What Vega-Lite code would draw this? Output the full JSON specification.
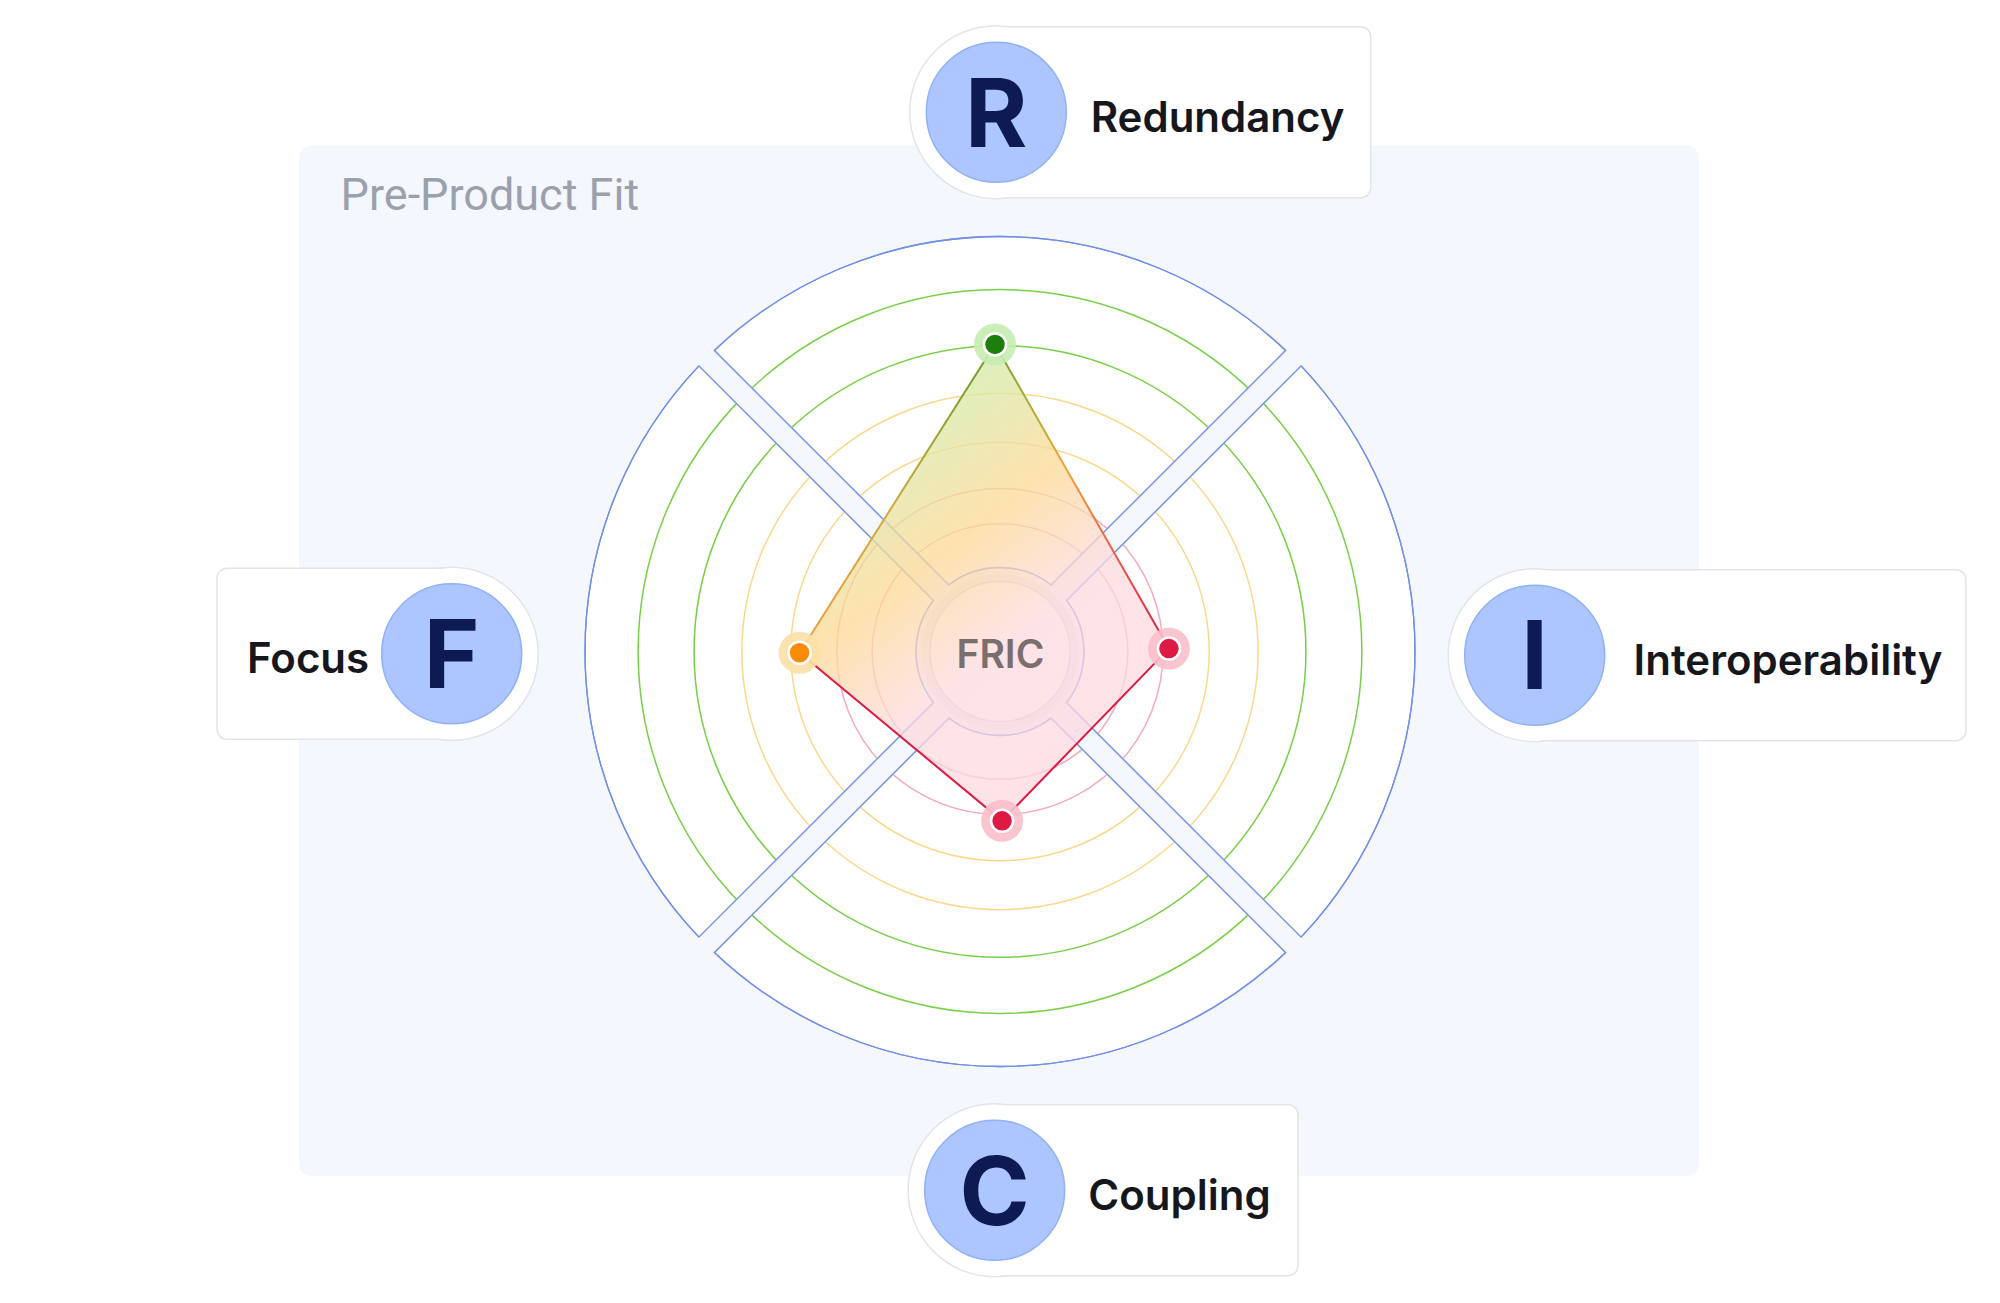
{
  "$schema": "https://vega.github.io/schema/vega-lite/v6.json",
  "width": 2000,
  "height": 1303,
  "autosize": {"type": "fit", "contains": "padding"},
  "padding": 0,
  "background": "#ffffff",
  "config": {"view": {"stroke": null}, "font": "Inter"},
  "datasets": {
    "radar": [
      {"dimension": "Redundancy", "letter": "R", "angle": 0, "x": -1.2, "y": 74.0, "status": "healthy"},
      {"dimension": "Interoperability", "letter": "I", "angle": 90, "x": 40.7, "y": 0.7, "status": "critical"},
      {"dimension": "Coupling", "letter": "C", "angle": 180, "x": 0.5, "y": -40.8, "status": "critical"},
      {"dimension": "Focus", "letter": "F", "angle": 270, "x": -48.3, "y": -0.3, "status": "warning"}
    ],
    "sectors": [
      {"dimension": "Redundancy", "start": -45, "end": 45},
      {"dimension": "Interoperability", "start": 45, "end": 135},
      {"dimension": "Coupling", "start": 135, "end": 225},
      {"dimension": "Focus", "start": 225, "end": 315}
    ],
    "rings": [
      {"level": 1, "r": 30.8, "zone": "critical"},
      {"level": 2, "r": 39.3, "zone": "critical"},
      {"level": 3, "r": 50.4, "zone": "warning"},
      {"level": 4, "r": 62.2, "zone": "warning"},
      {"level": 5, "r": 73.7, "zone": "healthy"},
      {"level": 6, "r": 87.2, "zone": "healthy"}
    ],
    "cards": [
      {"dimension": "Redundancy", "letter": "R", "cx": -0.89, "cy": 129.95, "edge": 89.33, "tx": 21.86},
      {"dimension": "Interoperability", "letter": "I", "cx": 128.84, "cy": -0.89, "edge": 232.75, "tx": 152.67},
      {"dimension": "Coupling", "letter": "C", "cx": -1.28, "cy": -129.81, "edge": 71.81, "tx": 21.28},
      {"dimension": "Focus", "letter": "F", "cx": -132.12, "cy": -0.55, "edge": -188.67, "tx": -181.45}
    ]
  },
  "layer": [
    {
      "data": {"values": [{"panel": "Pre-Product Fit"}]},
      "mark": {"type": "rect", "fill": "#f4f7fe", "cornerRadius": 12},
      "encoding": {
        "x": {"datum": -168.9, "type": "quantitative", "scale": {"domain": [-240.96, 240.96], "nice": false, "zero": false}, "axis": null},
        "x2": {"datum": 168.4},
        "y": {"datum": 121.9, "type": "quantitative", "scale": {"domain": [-156.99, 156.99], "nice": false, "zero": false}, "axis": null},
        "y2": {"datum": -126.3}
      }
    },
    {
      "data": {"values": [{"panel": "Pre-Product Fit"}]},
      "mark": {"type": "text", "align": "left", "baseline": "alphabetic", "font": "Roboto", "fontSize": 45, "color": "#9aa1ad"},
      "encoding": {
        "x": {"datum": -158.9, "type": "quantitative", "scale": {"domain": [-240.96, 240.96], "nice": false, "zero": false}, "axis": null},
        "y": {"datum": 106.5, "type": "quantitative", "scale": {"domain": [-156.99, 156.99], "nice": false, "zero": false}, "axis": null},
        "text": {"field": "panel"}
      }
    },
    {
      "data": {"name": "sectors"},
      "mark": {"type": "arc", "fill": "#ffffff", "stroke": "#7090e8", "strokeWidth": 1.3, "padAngle": 0.0515},
      "encoding": {
        "theta": {"field": "start", "type": "quantitative", "stack": null, "scale": {"type": "linear", "domain": [0, 360], "range": [0, 6.283185307179586]}},
        "theta2": {"field": "end"},
        "radius": {"datum": 100, "type": "quantitative", "scale": {"type": "linear", "domain": [0, 100], "range": [0, 415], "zero": true, "nice": false}},
        "radius2": {"datum": 20.24}
      }
    },
    {
      "data": {"name": "rings"},
      "mark": {"type": "arc", "filled": false, "strokeWidth": 1.5, "theta": 0, "theta2": 6.283185307179586},
      "encoding": {
        "radius": {"field": "r", "type": "quantitative", "stack": null, "scale": {"type": "linear", "domain": [0, 100], "range": [0, 415], "zero": true, "nice": false}},
        "stroke": {"field": "zone", "type": "nominal", "scale": {"domain": ["critical", "warning", "healthy"], "range": ["#f6a9b8", "#fcd88f", "#78cf48"]}, "legend": null}
      }
    },
    {
      "data": {"values": [{"gap": "diagonal 1"}]},
      "mark": {"type": "rule", "stroke": "#f4f7fe", "strokeWidth": 22},
      "encoding": {
        "x": {"datum": -74, "type": "quantitative", "scale": {"domain": [-240.96, 240.96], "nice": false, "zero": false}, "axis": null},
        "y": {"datum": -74, "type": "quantitative", "scale": {"domain": [-156.99, 156.99], "nice": false, "zero": false}, "axis": null},
        "x2": {"datum": 74},
        "y2": {"datum": 74}
      }
    },
    {
      "data": {"values": [{"gap": "diagonal 2"}]},
      "mark": {"type": "rule", "stroke": "#f4f7fe", "strokeWidth": 22},
      "encoding": {
        "x": {"datum": -74, "type": "quantitative", "scale": {"domain": [-240.96, 240.96], "nice": false, "zero": false}, "axis": null},
        "y": {"datum": 74, "type": "quantitative", "scale": {"domain": [-156.99, 156.99], "nice": false, "zero": false}, "axis": null},
        "x2": {"datum": 74},
        "y2": {"datum": -74}
      }
    },
    {
      "data": {"name": "sectors"},
      "mark": {"type": "arc", "filled": false, "stroke": "#7090e8", "strokeWidth": 1.3, "padAngle": 0.0515},
      "encoding": {
        "theta": {"field": "start", "type": "quantitative", "stack": null, "scale": {"type": "linear", "domain": [0, 360], "range": [0, 6.283185307179586]}},
        "theta2": {"field": "end"},
        "radius": {"datum": 100, "type": "quantitative", "scale": {"type": "linear", "domain": [0, 100], "range": [0, 415], "zero": true, "nice": false}},
        "radius2": {"datum": 20.24}
      }
    },
    {
      "data": {"values": [{"hub": "shadow"}]},
      "mark": {"type": "arc", "fill": "#e4e6ef", "opacity": 0.7, "theta": 0, "theta2": 6.283185307179586},
      "encoding": {
        "radius": {"datum": 18.8, "type": "quantitative", "scale": {"type": "linear", "domain": [0, 100], "range": [0, 415], "zero": true, "nice": false}},
        "radius2": {"datum": 16.87}
      }
    },
    {
      "data": {"values": [{"hub": "FRIC"}]},
      "mark": {"type": "arc", "fill": "#ffffff", "stroke": "#c8cce6", "strokeWidth": 1.3, "theta": 0, "theta2": 6.283185307179586},
      "encoding": {
        "radius": {"datum": 16.87, "type": "quantitative", "scale": {"type": "linear", "domain": [0, 100], "range": [0, 415], "zero": true, "nice": false}}
      }
    },
    {
      "data": {"name": "radar"},
      "mark": {
        "type": "line",
        "fill": {"gradient": "linear", "x1": 0.2, "y1": 0, "x2": 0.8, "y2": 1, "stops": [
          {"offset": 0, "color": "#c8e6a2"},
          {"offset": 0.2, "color": "#d9e8a4"},
          {"offset": 0.4, "color": "#fdd994"},
          {"offset": 0.62, "color": "#fddade"},
          {"offset": 1, "color": "#fdd8e0"}
        ]},
        "fillOpacity": 0.75,
        "strokeOpacity": 0
      },
      "encoding": {
        "x": {"field": "x", "type": "quantitative", "scale": {"domain": [-240.96, 240.96], "nice": false, "zero": false}, "axis": null},
        "y": {"field": "y", "type": "quantitative", "scale": {"domain": [-156.99, 156.99], "nice": false, "zero": false}, "axis": null},
        "order": {"field": "angle", "type": "quantitative"}
      }
    },
    {
      "data": {"values": [{"hub": "FRIC"}]},
      "mark": {"type": "text", "align": "center", "baseline": "alphabetic", "font": "Inter", "fontSize": 39, "fontWeight": 600, "color": "#7b6e6f"},
      "encoding": {
        "x": {"datum": 0.1, "type": "quantitative", "scale": {"domain": [-240.96, 240.96], "nice": false, "zero": false}, "axis": null},
        "y": {"datum": -3.93, "type": "quantitative", "scale": {"domain": [-156.99, 156.99], "nice": false, "zero": false}, "axis": null},
        "text": {"field": "hub"}
      }
    },
    {
      "data": {"name": "radar"},
      "transform": [{"filter": "datum.letter !== 'C'"}],
      "mark": {
        "type": "line",
        "strokeWidth": 2,
        "stroke": {"gradient": "linear", "x1": 0, "y1": 0, "x2": 1, "y2": 0, "stops": [
          {"offset": 0, "color": "#f39c40"},
          {"offset": 0.25, "color": "#d4a83c"},
          {"offset": 0.53, "color": "#5f9e2c"},
          {"offset": 0.6, "color": "#9aae38"},
          {"offset": 0.72, "color": "#eea436"},
          {"offset": 0.86, "color": "#e65a48"},
          {"offset": 1, "color": "#dc1a43"}
        ]}
      },
      "encoding": {
        "x": {"field": "x", "type": "quantitative", "scale": {"domain": [-240.96, 240.96], "nice": false, "zero": false}, "axis": null},
        "y": {"field": "y", "type": "quantitative", "scale": {"domain": [-156.99, 156.99], "nice": false, "zero": false}, "axis": null},
        "order": {"field": "x", "type": "quantitative"}
      }
    },
    {
      "data": {"name": "radar"},
      "transform": [{"filter": "datum.letter !== 'R'"}],
      "mark": {"type": "line", "strokeWidth": 2, "stroke": "#dc1a43"},
      "encoding": {
        "x": {"field": "x", "type": "quantitative", "scale": {"domain": [-240.96, 240.96], "nice": false, "zero": false}, "axis": null},
        "y": {"field": "y", "type": "quantitative", "scale": {"domain": [-156.99, 156.99], "nice": false, "zero": false}, "axis": null},
        "order": {"field": "x", "type": "quantitative"}
      }
    },
    {
      "data": {"name": "radar"},
      "mark": {"type": "point", "shape": "circle", "filled": true, "size": 1764, "opacity": 0.9},
      "encoding": {
        "x": {"field": "x", "type": "quantitative", "scale": {"domain": [-240.96, 240.96], "nice": false, "zero": false}, "axis": null},
        "y": {"field": "y", "type": "quantitative", "scale": {"domain": [-156.99, 156.99], "nice": false, "zero": false}, "axis": null},
        "color": {"field": "status", "type": "nominal", "scale": {"domain": ["critical", "warning", "healthy"], "range": ["#fbbfcb", "#fbe0a6", "#c6ecb0"]}, "legend": null}
      }
    },
    {
      "data": {"name": "radar"},
      "mark": {"type": "point", "shape": "circle", "filled": true, "size": 484, "opacity": 1, "stroke": "#ffffff", "strokeWidth": 2.5},
      "encoding": {
        "x": {"field": "x", "type": "quantitative", "scale": {"domain": [-240.96, 240.96], "nice": false, "zero": false}, "axis": null},
        "y": {"field": "y", "type": "quantitative", "scale": {"domain": [-156.99, 156.99], "nice": false, "zero": false}, "axis": null},
        "fill": {"field": "status", "type": "nominal", "scale": {"domain": ["critical", "warning", "healthy"], "range": ["#dc1a43", "#fb8c0a", "#1d7e0c"]}, "legend": null}
      }
    },
    {
      "data": {"name": "cards"},
      "mark": {"type": "point", "shape": "circle", "filled": true, "size": 29929, "opacity": 1, "fill": "#ffffff", "stroke": "#e1e4eb", "strokeWidth": 1.5},
      "encoding": {
        "x": {"field": "cx", "type": "quantitative", "scale": {"domain": [-240.96, 240.96], "nice": false, "zero": false}, "axis": null},
        "y": {"field": "cy", "type": "quantitative", "scale": {"domain": [-156.99, 156.99], "nice": false, "zero": false}, "axis": null}
      }
    },
    {
      "data": {"name": "cards"},
      "mark": {"type": "rect", "height": 171, "cornerRadius": 10, "fill": "#ffffff", "stroke": "#e1e4eb", "strokeWidth": 1.5},
      "encoding": {
        "x": {"field": "cx", "type": "quantitative", "scale": {"domain": [-240.96, 240.96], "nice": false, "zero": false}, "axis": null},
        "x2": {"field": "edge"},
        "y": {"field": "cy", "type": "quantitative", "scale": {"domain": [-156.99, 156.99], "nice": false, "zero": false}, "axis": null}
      }
    },
    {
      "data": {"name": "cards"},
      "mark": {"type": "point", "shape": "circle", "filled": true, "size": 29241, "opacity": 1, "fill": "#ffffff", "strokeWidth": 0},
      "encoding": {
        "x": {"field": "cx", "type": "quantitative", "scale": {"domain": [-240.96, 240.96], "nice": false, "zero": false}, "axis": null},
        "y": {"field": "cy", "type": "quantitative", "scale": {"domain": [-156.99, 156.99], "nice": false, "zero": false}, "axis": null}
      }
    },
    {
      "data": {"name": "cards"},
      "mark": {"type": "point", "shape": "circle", "filled": true, "size": 19600, "opacity": 1, "fill": "#adc6ff", "stroke": "#8fb0fb", "strokeWidth": 1.5},
      "encoding": {
        "x": {"field": "cx", "type": "quantitative", "scale": {"domain": [-240.96, 240.96], "nice": false, "zero": false}, "axis": null},
        "y": {"field": "cy", "type": "quantitative", "scale": {"domain": [-156.99, 156.99], "nice": false, "zero": false}, "axis": null}
      }
    },
    {
      "data": {"name": "cards"},
      "mark": {"type": "text", "align": "center", "baseline": "alphabetic", "dy": 34.3, "font": "Inter", "fontSize": 95, "fontWeight": 700, "color": "#0d1a54"},
      "encoding": {
        "x": {"field": "cx", "type": "quantitative", "scale": {"domain": [-240.96, 240.96], "nice": false, "zero": false}, "axis": null},
        "y": {"field": "cy", "type": "quantitative", "scale": {"domain": [-156.99, 156.99], "nice": false, "zero": false}, "axis": null},
        "text": {"field": "letter"}
      }
    },
    {
      "data": {"name": "cards"},
      "mark": {"type": "text", "align": "left", "baseline": "alphabetic", "dy": 19.5, "font": "Inter", "fontSize": 42, "fontWeight": 600, "color": "#15171c"},
      "encoding": {
        "x": {"field": "tx", "type": "quantitative", "scale": {"domain": [-240.96, 240.96], "nice": false, "zero": false}, "axis": null},
        "y": {"field": "cy", "type": "quantitative", "scale": {"domain": [-156.99, 156.99], "nice": false, "zero": false}, "axis": null},
        "text": {"field": "dimension"}
      }
    }
  ]
}
